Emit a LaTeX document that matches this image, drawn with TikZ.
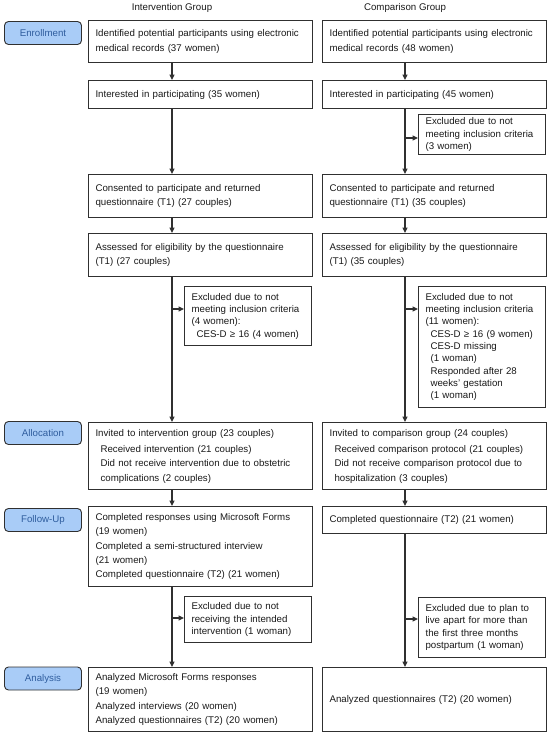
\documentclass[tikz,border=0pt]{standalone}
\usepackage{fontspec}
\setmainfont{Liberation Sans}
\usetikzlibrary{arrows.meta,positioning}
\definecolor{flowInk}{HTML}{1A1A1A}
\definecolor{flowLine}{HTML}{303030}
\definecolor{flowBlue}{HTML}{2F5D9E}
\definecolor{flowFill}{HTML}{A9CCF7}
\tikzset{
  every picture/.style={font=\fontsize{9.7}{14.2}\selectfont, text=flowInk},
  flow box/.style={draw=flowLine, line width=1.1pt, fill=white, align=left,
    anchor=north west, inner xsep=7pt, inner ysep=1pt, text width=210pt,
    execute at begin node={\hyphenpenalty=10000 \exhyphenpenalty=10000}},
  flow excl/.style={flow box, text width=113pt, font=\fontsize{9.7}{12.3}\selectfont},
  flow stage/.style={draw=flowLine, line width=0.9pt, rounded corners=4pt,
    fill=flowFill, text=flowBlue, minimum width=77pt, minimum height=23pt},
  flow arrow/.style={-{Triangle[length=5.5pt,width=5pt]}, draw=flowLine,
    line width=1.1pt},
  flow head/.style={inner sep=1pt}
}
\newcommand{\flowindent}{\hspace*{5pt}}

\begin{document}
\begin{tikzpicture}[x=1pt,y=1pt]
  \useasboundingbox (0,0) rectangle (550,-739);
  \coordinate (colL) at (172,0);
  \coordinate (colR) at (405,0);

  % column headers
  \node[flow head] (hdL) at (172,-8) {Intervention Group};
  \node[flow head] (hdR) at (405,-8) {Comparison Group};

  % stages
  \foreach \name/\y/\lab in {enr/-33/Enrollment, all/-433/Allocation,
      fol/-520/Follow-Up, ana/-678.5/Analysis}{
    \node[flow stage] (st\name) at (43,\y) {\lab};
  }

  % intervention group
  \node[flow box, minimum height=42pt] (idL) at (88,-20)
    {Identified potential participants using electronic\\medical records (37 women)};
  \node[flow box, minimum height=28pt] (intL) at (88,-80)
    {Interested in participating (35 women)};
  \node[flow box, minimum height=43pt] (conL) at (88,-174)
    {Consented to participate and returned\\questionnaire (T1) (27 couples)};
  \node[flow box, minimum height=43pt] (assL) at (88,-233)
    {Assessed for eligibility by the questionnaire\\(T1) (27 couples)};
  \node[flow excl, minimum height=59pt] (exL1) at (184,-286)
    {Excluded due to not\\meeting inclusion criteria\\(4 women):\\\flowindent CES-D ≥ 16 (4 women)};
  \node[flow box, minimum height=67pt] (allL) at (88,-422)
    {Invited to intervention group (23 couples)\\[2.5pt]
     \flowindent Received intervention (21 couples)\\
     \flowindent Did not receive intervention due to obstetric\\
     \flowindent complications (2 couples)};
  \node[flow box, minimum height=80pt] (folL) at (88,-506)
    {Completed responses using Microsoft Forms\\(19 women)\\
     Completed a semi-structured interview\\(21 women)\\
     Completed questionnaire (T2) (21 women)};
  \node[flow excl, minimum height=46pt] (exL2) at (184,-596)
    {Excluded due to not\\receiving the intended\\intervention (1 woman)};
  \node[flow box, minimum height=64pt] (anaL) at (88,-667)
    {Analyzed Microsoft Forms responses\\(19 women)\\
     Analyzed interviews (20 women)\\
     Analyzed questionnaires (T2) (20 women)};

  % comparison group
  \node[flow box, minimum height=42pt] (idR) at (322,-20)
    {Identified potential participants using electronic\\medical records (48 women)};
  \node[flow box, minimum height=28pt] (intR) at (322,-80)
    {Interested in participating (45 women)};
  \node[flow excl, minimum height=40pt] (exR1) at (418,-114)
    {Excluded due to not\\meeting inclusion criteria\\(3 women)};
  \node[flow box, minimum height=43pt] (conR) at (322,-174)
    {Consented to participate and returned\\questionnaire (T1) (35 couples)};
  \node[flow box, minimum height=43pt] (assR) at (322,-233)
    {Assessed for eligibility by the questionnaire\\(T1) (35 couples)};
  \node[flow excl, minimum height=121pt] (exR2) at (418,-286)
    {Excluded due to not\\meeting inclusion criteria\\(11 women):\\
     \flowindent CES-D ≥ 16 (9 women)\\\flowindent CES-D missing\\\flowindent (1 woman)\\
     \flowindent Responded after 28\\\flowindent weeks’ gestation\\\flowindent (1 woman)};
  \node[flow box, minimum height=67pt] (allR) at (322,-422)
    {Invited to comparison group (24 couples)\\[2.5pt]
     \flowindent Received comparison protocol (21 couples)\\
     \flowindent Did not receive comparison protocol due to\\
     \flowindent hospitalization (3 couples)};
  \node[flow box, minimum height=27pt] (folR) at (322,-506)
    {Completed questionnaire (T2) (21 women)};
  \node[flow excl, minimum height=60pt] (exR3) at (418,-597)
    {Excluded due to plan to\\live apart for more than\\the first three months\\postpartum (1 woman)};
  \node[flow box, minimum height=64pt] (anaR) at (322,-667)
    {Analyzed questionnaires (T2) (20 women)};

  % main flow
  \foreach \a/\b in {idL/intL, intL/conL, conL/assL, assL/allL, allL/folL, folL/anaL}
    \draw[flow arrow] (\a.south -| colL) -- (\b.north -| colL);
  \foreach \a/\b in {idR/intR, intR/conR, conR/assR, assR/allR, allR/folR, folR/anaR}
    \draw[flow arrow] (\a.south -| colR) -- (\b.north -| colR);

  % exclusions
  \coordinate (brL1) at (172,-309);
  \coordinate (brL2) at (172,-618);
  \coordinate (brR1) at (405,-138);
  \coordinate (brR2) at (405,-309);
  \coordinate (brR3) at (405,-619);
  \foreach \c/\e in {brL1/exL1, brL2/exL2, brR1/exR1, brR2/exR2, brR3/exR3}
    \draw[flow arrow] (\c) -- (\c -| \e.west);
\end{tikzpicture}
\end{document}
